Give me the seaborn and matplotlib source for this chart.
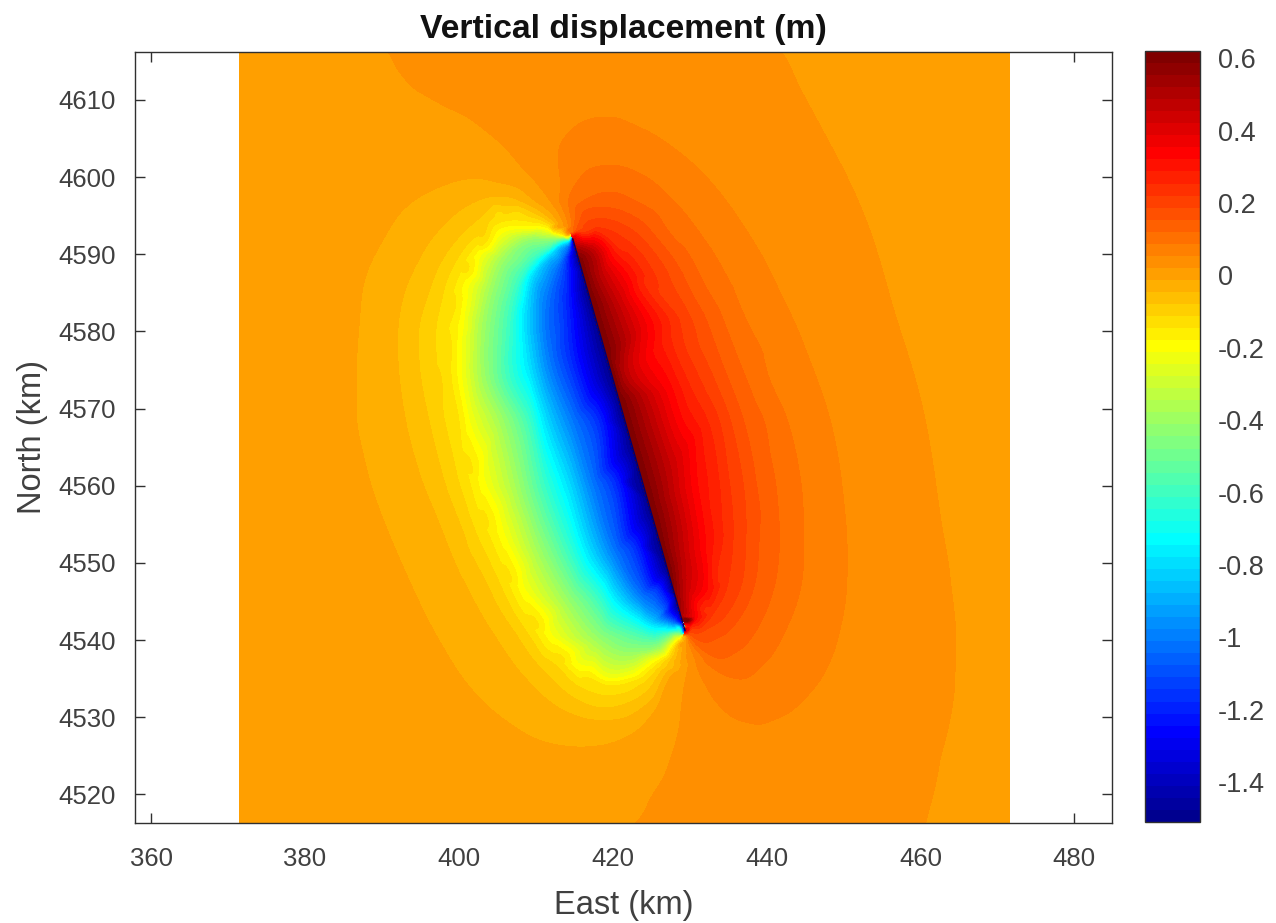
import numpy as np
import seaborn as sns
import matplotlib
matplotlib.use('Agg')
import matplotlib.pyplot as plt
import matplotlib.tri as mtri
from matplotlib.colors import ListedColormap, BoundaryNorm

# Displacement samples: (east km, north km) along lines of equal value
west_1 = [(413.2,4593.5),(410.6,4596.5),(406.4,4599.1),(401.9,4599.9),(397.7,4598.9),(393.4,4596.5),(389.9,4591.7),(387.7,4586.9),(386.9,4580.5),(386.6,4575.3),(386.6,4568.4),(387.7,4562.9),(389.9,4555.9),(393.4,4547.7),(397.3,4539.9),(401.9,4533.1),(407.1,4528.7),(412.9,4526.3),(417.1,4526.1),(421.9,4527.4),(425.8,4531.2),(427.9,4535.6),(429.0,4539.5)]
west_2 = [(413.2,4593.4),(410.6,4595.6),(407.1,4597.3),(403.8,4597.4),(400.6,4596.0),(397.3,4593.0),(394.7,4589.1),(392.9,4584.9),(392.1,4580.5),(392.1,4576.2),(393.1,4568.4),(394.8,4561.9),(397.3,4555.5),(400.6,4547.7),(404.5,4540.8),(409.0,4534.7),(414.2,4530.6),(418.4,4529.6),(422.3,4530.2),(425.3,4532.5),(427.9,4536.4),(429.2,4539.9)]
west_3 = [(412.3,4593.4),(409.4,4595.6),(406.4,4596.3),(403.2,4595.2),(400.3,4592.6),(397.7,4589.1),(396.0,4584.9),(394.8,4580.5),(394.8,4576.2),(396.1,4568.4),(397.7,4561.9),(400.3,4554.6),(403.2,4548.1),(406.8,4541.6),(410.6,4536.4),(414.9,4532.5),(418.4,4531.2),(421.9,4531.8),(424.9,4533.8),(427.5,4537.3),(429.2,4540.3)]
west_4 = [(412.9,4593.0),(410.3,4594.6),(407.7,4595.6),(405.1,4595.6),(401.9,4592.1),(399.4,4588.8),(397.9,4584.9),(397.0,4580.5),(397.0,4576.2),(398.1,4568.4),(399.6,4561.9),(401.9,4554.6),(405.1,4547.7),(408.4,4541.6),(412.3,4536.9),(415.8,4533.8),(418.8,4532.8),(421.9,4533.2),(424.9,4535.1),(427.9,4538.6)]
west_5 = [(413.6,4592.6),(411.6,4593.7),(409.0,4594.3),(405.8,4594.3),(403.2,4591.3),(401.2,4587.9),(399.6,4583.6),(399.0,4578.4),(399.0,4574.0),(400.0,4568.4),(401.8,4561.9),(403.8,4555.5),(406.8,4548.1),(410.3,4542.1),(413.6,4537.7),(416.8,4535.1),(419.4,4534.1),(422.3,4534.5),(425.3,4536.4),(427.9,4539.0)]
west_yellow = [(413.9,4592.3),(412.3,4592.8),(409.0,4593.4),(405.5,4592.8),(402.9,4590.1),(401.3,4586.2),(400.5,4580.5),(400.3,4574.0),(401.3,4568.4),(403.2,4561.0),(405.8,4553.8),(408.4,4546.8),(411.9,4540.8),(415.5,4536.9),(419.4,4535.0),(422.3,4535.4),(425.3,4537.3),(427.9,4539.5)]
west_lime = [(414.2,4592.1),(412.3,4592.1),(409.0,4592.0),(405.8,4589.5),(404.2,4585.6),(403.2,4580.5),(403.2,4574.0),(405.5,4568.4),(407.7,4559.7),(410.6,4551.2),(414.2,4544.7),(418.1,4539.9),(422.7,4538.2),(426.2,4539.0),(428.6,4540.6)]
west_green = [(413.9,4591.9),(411.6,4590.8),(409.0,4588.8),(407.1,4584.9),(406.4,4580.5),(406.4,4574.0),(409.0,4568.4),(411.0,4559.7),(414.2,4551.2),(418.1,4545.1),(422.7,4541.2),(427.1,4540.8)]
west_cyan = [(414.2,4591.7),(411.9,4590.1),(409.7,4587.5),(408.7,4582.7),(409.1,4576.2),(411.3,4568.4),(414.2,4560.3),(417.1,4551.2),(420.6,4545.5),(424.9,4542.1),(428.8,4541.4)]
west_azure = [(414.4,4591.6),(413.2,4589.5),(411.9,4586.9),(411.0,4582.7),(411.6,4576.2),(414.5,4568.4),(417.1,4560.3),(420.1,4551.2),(423.6,4545.5),(427.9,4542.1)]
west_blue = [(414.5,4590.8),(414.2,4587.5),(414.2,4582.7),(414.9,4576.2),(418.4,4568.4),(420.6,4560.3),(423.2,4552.0),(426.2,4546.4),(428.8,4542.1)]
west_navy = [(414.8,4591.3),(415.5,4587.9),(416.8,4580.5),(418.4,4574.0),(420.4,4568.4),(422.3,4560.3),(424.9,4552.0),(427.9,4545.5),(429.2,4541.9)]

east_1a = [(390.9,4616.2),(392.2,4613.8),(394.4,4611.4),(397.7,4609.5),(401.6,4607.5),(405.5,4604.4),(408.7,4600.8),(411.7,4597.2),(413.6,4594.1)]
east_1b = [(441.8,4616.2),(444.4,4611.2),(448.3,4604.0),(452.2,4596.0),(456.1,4584.0),(460.0,4571.0),(462.6,4555.5),(463.8,4548.0),(464.5,4539.9),(464.3,4533.0),(463.4,4528.0),(462.4,4524.0),(460.6,4516.3)]
east_1c = [(423.0,4516.3),(425.6,4520.5),(427.5,4524.4),(428.8,4529.6),(429.6,4535.4),(429.6,4539.3)]
east_2 = [(414.3,4593.7),(413.2,4598.2),(412.9,4603.0),(414.5,4606.0),(419.4,4607.8),(423.6,4606.4),(427.9,4603.8),(432.3,4599.9),(436.6,4594.3),(440.9,4586.9),(444.8,4578.4),(448.3,4568.4),(450.0,4558.4),(450.5,4551.2),(450.0,4543.4),(447.9,4536.4),(444.4,4531.8),(440.9,4529.6),(437.9,4529.2),(434.9,4530.5),(432.3,4533.8),(430.8,4537.3),(429.9,4539.9)]
east_3 = [(414.5,4593.0),(414.3,4596.9),(415.8,4599.9),(419.4,4601.5),(423.6,4600.4),(427.9,4596.9),(432.3,4591.3),(436.6,4583.1),(440.1,4574.5),(442.7,4568.4),(444.4,4560.6),(444.8,4553.3),(444.4,4546.8),(442.2,4540.8),(439.6,4536.9),(436.2,4535.0),(433.6,4536.0),(431.4,4538.2),(430.1,4539.9)]
east_4 = [(414.9,4593.4),(415.2,4595.2),(416.8,4597.2),(419.7,4598.0),(423.6,4596.5),(427.9,4592.1),(432.3,4585.3),(436.2,4576.6),(439.6,4568.4),(441.2,4559.7),(441.6,4552.0),(440.9,4546.8),(438.8,4541.6),(436.2,4538.6),(433.6,4537.7),(431.4,4539.0),(429.9,4540.6)]
east_5 = [(415.5,4593.7),(416.2,4595.4),(419.4,4596.0),(423.2,4594.6),(427.1,4590.4),(431.0,4583.6),(434.4,4575.3),(437.0,4568.4),(438.6,4560.6),(439.0,4552.9),(438.3,4546.8),(436.2,4542.5),(433.6,4540.3),(431.4,4539.9),(429.9,4540.8)]
east_6 = [(415.6,4593.0),(418.8,4594.6),(422.7,4593.0),(426.2,4589.1),(430.1,4581.8),(433.1,4574.0),(435.3,4568.4),(436.9,4560.6),(437.3,4553.3),(436.6,4546.8),(434.4,4542.9),(431.8,4541.2),(429.9,4541.0)]
east_7 = [(416.1,4592.8),(418.1,4593.4),(421.9,4591.7),(425.3,4587.5),(428.8,4580.5),(431.8,4572.7),(433.8,4568.4),(435.1,4560.6),(435.6,4553.3),(434.9,4547.3),(433.0,4543.4),(430.8,4541.5)]
east_8 = [(416.5,4592.5),(420.6,4590.8),(424.0,4586.2),(427.5,4579.2),(430.1,4572.7),(432.3,4568.4),(433.8,4560.6),(434.3,4553.8),(433.6,4547.7),(431.8,4543.8),(430.1,4541.6)]
east_red = [(417.5,4592.0),(421.9,4586.9),(424.9,4581.0),(427.5,4572.3),(428.8,4568.4),(430.8,4559.7),(431.8,4552.5),(432.1,4546.8),(430.8,4542.9),(429.7,4541.5)]
east_dark = [(417.1,4590.4),(418.4,4587.0),(420.3,4583.1),(421.6,4574.5),(424.9,4568.4),(426.9,4562.0),(428.8,4551.0),(429.1,4546.8),(429.4,4542.3)]

west_values = [-0.012, -0.046, -0.079, -0.112, -0.146, -0.21, -0.4, -0.6, -0.8, -1.0, -1.2, -1.4]
east_values = [0.021, 0.021, 0.021, 0.054, 0.0875, 0.121, 0.154, 0.187, 0.221, 0.254, 0.33, 0.48]

# the fault itself, value jumps from one side to the other
fault_x = [414.80,414.94,415.09,415.23,415.37,415.52,415.66,415.81,415.95,416.09,416.24,416.38,416.52,416.67,416.81,416.96,417.10,417.24,417.39,417.53,
           417.67,417.82,417.96,418.11,418.25,418.39,418.54,418.68,418.82,418.97,419.11,419.25,419.40,419.54,419.69,419.83,419.97,420.12,420.26,420.40,
           420.55,420.69,420.84,420.98,421.12,421.27,421.41,421.55,421.70,421.84,421.99,422.13,422.27,422.42,422.56,422.70,422.85,422.99,423.13,423.28,
           423.42,423.57,423.71,423.85,424.00,424.14,424.28,424.43,424.57,424.72,424.86,425.00,425.15,425.29,425.43,425.58,425.72,425.86,426.01,426.15,
           426.30,426.44,426.58,426.73,426.87,427.01,427.16,427.30,427.45,427.59,427.73,427.88,428.02,428.16,428.31,428.45,428.60,428.74,428.88,429.03,
           429.17,429.31,429.40]
fault_y = [4592,4591.5,4591,4590.5,4590,4589.5,4589,4588.5,4588,4587.5,4587,4586.5,4586,4585.5,4585,4584.5,4584,4583.5,4583,4582.5,
           4582,4581.5,4581,4580.5,4580,4579.5,4579,4578.5,4578,4577.5,4577,4576.5,4576,4575.5,4575,4574.5,4574,4573.5,4573,4572.5,
           4572,4571.5,4571,4570.5,4570,4569.5,4569,4568.5,4568,4567.5,4567,4566.5,4566,4565.5,4565,4564.5,4564,4563.5,4563,4562.5,
           4562,4561.5,4561,4560.5,4560,4559.5,4559,4558.5,4558,4557.5,4557,4556.5,4556,4555.5,4555,4554.5,4554,4553.5,4553,4552.5,
           4552,4551.5,4551,4550.5,4550,4549.5,4549,4548.5,4548,4547.5,4547,4546.5,4546,4545.5,4545,4544.5,4544,4543.5,4543,4542.5,
           4542,4541.5,4541.2]
fault_west = [-1.42,-1.46,-1.49] + [-1.51]*97 + [-1.49,-1.46,-1.42]
fault_east = [0.4,0.45,0.5,0.54,0.57,0.6] + [0.62]*83 + [0.61,0.6,0.59,0.58,0.57,0.56,0.55,0.54,0.52,0.5,0.47,0.44,0.4,0.38]

# far field, edges of the modelled area
edge_x = [371.5,371.5,471.5,471.5,371.5,471.5,385.0,420.0,400.0,445.0,471.5,380.0,378.0,385.0,400.0,468.0,468.0]
edge_y = [4516.3,4616.2,4516.3,4616.2,4566.0,4566.0,4616.2,4616.2,4516.3,4516.3,4600.0,4595.0,4570.0,4535.0,4521.0,4610.0,4525.0]
edge_z = [0.004,0.004,0.004,0.004,0.004,0.004,0.004,0.04,0.004,0.04,0.004,0.004,0.004,0.004,0.004,0.004,0.004]

x_ticks = [360,380,400,420,440,460,480]
y_ticks = [4520,4530,4540,4550,4560,4570,4580,4590,4600,4610]
bar_ticks = [0.6,0.4,0.2,0,-0.2,-0.4,-0.6,-0.8,-1,-1.2,-1.4]
bar_labels = ['0.6','0.4','0.2','0','-0.2','-0.4','-0.6','-0.8','-1','-1.2','-1.4']

sns.set_style('ticks')
plt.rcParams['font.family'] = ['Liberation Sans', 'DejaVu Sans']

# MATLAB style jet, 64 steps
rows = np.arange(1, 65)
red = np.interp(rows, [24,40,56,64], [0,1,1,0.5])
green = np.interp(rows, [8,24,40,56], [0,1,1,0])
blue = np.interp(rows, [1,8,24,40], [0.5625,1,1,0])
jet = ListedColormap(sns.color_palette(list(zip(red, green, blue)), 64))
levels = np.linspace(-1.51, 0.62, 65)

# Collect the samples
xs, ys, zs = [], [], []
lines = [west_1,west_2,west_3,west_4,west_5,west_yellow,west_lime,west_green,west_cyan,west_azure,west_blue,west_navy]
for line, value in zip(lines, west_values):
    for p in line:
        xs.append(p[0]); ys.append(p[1]); zs.append(value)
lines = [east_1a,east_1b,east_1c,east_2,east_3,east_4,east_5,east_6,east_7,east_8,east_red,east_dark]
for line, value in zip(lines, east_values):
    for p in line:
        xs.append(p[0]); ys.append(p[1]); zs.append(value)
west_side, east_side = [], []
for i in range(len(fault_x)):
    west_side.append(len(xs))
    xs.append(fault_x[i]-0.01); ys.append(fault_y[i]); zs.append(fault_west[i])
    east_side.append(len(xs))
    xs.append(fault_x[i]+0.01); ys.append(fault_y[i]); zs.append(fault_east[i])
xs += edge_x; ys += edge_y; zs += edge_z
zs = np.clip(zs, -1.509, 0.619)

fig = plt.figure(figsize=(12.76, 9.23), dpi=100)
ax = fig.add_axes([135/1276, 1-823/923, (1112-135)/1276, (823-52)/923])
cax = fig.add_axes([1145/1276, 1-822/923, 55/1276, 771/923])

# triangles must not bridge the fault, the two sides are separate
tri = mtri.Triangulation(xs, ys)
crosses = np.isin(tri.triangles, west_side).any(axis=1) & np.isin(tri.triangles, east_side).any(axis=1)
tri.set_mask(crosses)
smooth = mtri.CubicTriInterpolator(tri, zs, kind='geom')
fine_tri, fine_z = mtri.UniformTriRefiner(tri).refine_field(zs, triinterpolator=smooth, subdiv=3)
cs = ax.tricontourf(fine_tri, np.clip(fine_z, -1.509, 0.619), levels=levels, cmap=jet, norm=BoundaryNorm(levels, 64))
cs.set_edgecolor('face')
cs.set_linewidth(0.3)
ax.plot(fault_x, fault_y, color='#00006f', lw=1)

ax.set_xlim(357.9, 484.9)
ax.set_ylim(4516.3, 4616.2)
ax.set_xticks(x_ticks)
ax.set_yticks(y_ticks)
ax.tick_params(direction='in', top=True, right=True, length=7, width=1, labelsize=18.5, labelcolor='#404040', color='#303030')
ax.tick_params(axis='x', pad=17)
ax.tick_params(axis='y', pad=14)
for s in ax.spines.values():
    s.set_color('#303030')
    s.set_linewidth(1)
ax.set_xlabel('East (km)', fontsize=23.5, color='#404040', labelpad=14)
ax.set_ylabel('North (km)', fontsize=23.5, color='#404040', labelpad=7)
ax.set_title('Vertical displacement (m)', fontsize=24.3, fontweight='bold', color='#111111', pad=10)

cb = fig.colorbar(cs, cax=cax, ticks=bar_ticks, spacing='proportional')
cb.set_ticklabels(bar_labels)
cb.ax.minorticks_off()
cb.ax.tick_params(direction='in', length=5, width=1, labelsize=19.5, labelcolor='#404040', color='#303030', pad=13)
cb.outline.set_edgecolor('#303030')
cb.outline.set_linewidth(1)

plt.savefig('out.png', dpi=100)
